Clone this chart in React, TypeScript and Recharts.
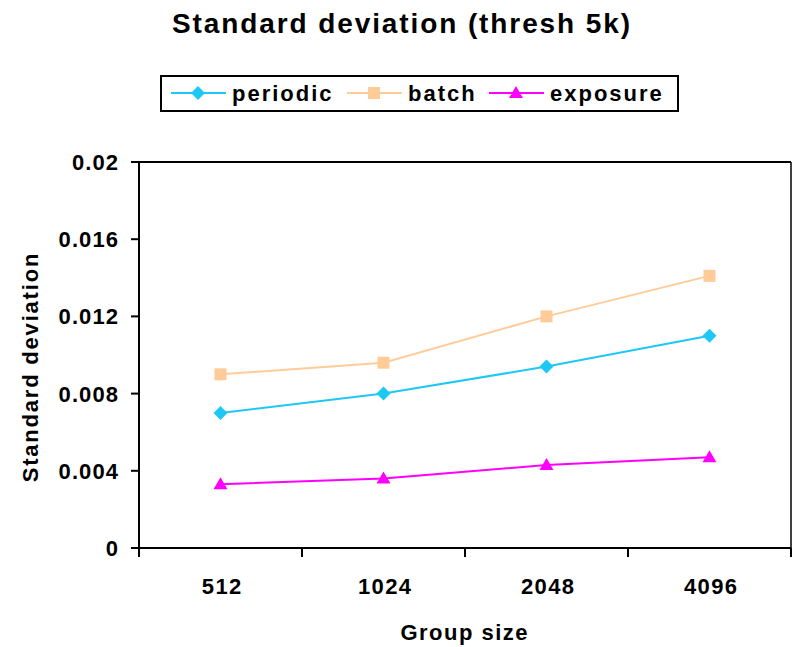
import React from "react";
import { LineChart, Line, XAxis, YAxis, CartesianGrid } from "recharts";

// ─── Data ────────────────────────────────────────────────────────────────────

const groupSizes = ["512", "1024", "2048", "4096"];
const periodic = [0.007, 0.008, 0.0094, 0.011];
const batch = [0.009, 0.0096, 0.012, 0.0141];
const exposure = [0.0033, 0.0036, 0.0043, 0.0047];
const yTicks = [0, 0.004, 0.008, 0.012, 0.016, 0.02];

const data = groupSizes.map((size, i) => ({
  size,
  periodic: periodic[i],
  batch: batch[i],
  exposure: exposure[i],
}));

const FONT = "'Liberation Sans', Arial, sans-serif";

const SERIES = [
  { key: "periodic", color: "#1ec8f5", shape: "diamond", left: 171 },
  { key: "batch", color: "#ffcc99", shape: "square", left: 347 },
  { key: "exposure", color: "#ff00ff", shape: "triangle", left: 489 },
];

// ─── Helpers ─────────────────────────────────────────────────────────────────

// bold text with a little tracking; anchor shift compensates for trailing spacing
function Txt({
  x,
  y,
  size = 22,
  spacing = 1.5,
  anchor = "start",
  rotate = 0,
  children,
}: {
  x: number;
  y: number;
  size?: number;
  spacing?: number;
  anchor?: "start" | "middle" | "end";
  rotate?: number;
  children: React.ReactNode;
}) {
  const shift = anchor === "middle" ? spacing / 2 : anchor === "end" ? spacing : 0;
  return (
    <text
      transform={`translate(${x},${y}) rotate(${rotate})`}
      x={shift}
      textAnchor={anchor}
      fontFamily={FONT}
      fontWeight={700}
      fontSize={size}
      letterSpacing={spacing}
      fill="#000"
    >
      {children}
    </text>
  );
}

function Marker({ cx, cy, shape, color }: { cx: number; cy: number; shape: string; color: string }) {
  if (shape === "diamond") {
    return <polygon points={`${cx},${cy - 7} ${cx + 7},${cy} ${cx},${cy + 7} ${cx - 7},${cy}`} fill={color} />;
  }
  if (shape === "square") {
    return <rect x={cx - 6} y={cy - 6} width={12} height={12} fill={color} />;
  }
  return <polygon points={`${cx},${cy - 7} ${cx + 7},${cy + 5} ${cx - 7},${cy + 5}`} fill={color} />;
}

// x ticks sit on category boundaries, labels at centres
function XTick(props: any) {
  const { x, y, payload, index, visibleTicksCount } = props;
  const half = payload?.offset || 81.5;
  const last = index === (visibleTicksCount ?? groupSizes.length) - 1;
  return (
    <g>
      <line x1={x - half} x2={x - half} y1={y} y2={y + 9} stroke="#000" strokeWidth={2} />
      {last && <line x1={x + half} x2={x + half} y1={y} y2={y + 9} stroke="#000" strokeWidth={2} />}
      <Txt x={x + 1} y={y + 46} anchor="middle" spacing={1.4}>
        {payload.value}
      </Txt>
    </g>
  );
}

function YTick(props: any) {
  const { x, y, payload } = props;
  return (
    <Txt x={x - 11} y={y + 8} anchor="end" spacing={1.1}>
      {String(payload.value)}
    </Txt>
  );
}

function Header() {
  return (
    <svg width={792} height={130} style={{ position: "absolute", left: 0, top: 0 }}>
      <Txt x={401} y={33} size={28} spacing={1.9} anchor="middle">
        Standard deviation (thresh 5k)
      </Txt>
      <rect x={161} y={76} width={517} height={35} fill="none" stroke="#000" strokeWidth={2} />
      {SERIES.map((s) => (
        <g key={s.key}>
          <line x1={s.left} x2={s.left + 55} y1={93} y2={93} stroke={s.color} strokeWidth={2} />
          <Marker cx={s.left + 27} cy={93} shape={s.shape} color={s.color} />
          <Txt x={s.left + 61} y={100.5} spacing={2}>
            {s.key}
          </Txt>
        </g>
      ))}
    </svg>
  );
}

export default function App() {
  return (
    <div style={{ position: "absolute", left: 0, top: 0, width: 792, height: 647, background: "#fff" }}>
      <Header />
      <LineChart width={792} height={647} data={data} margin={{ top: 162, right: 0, bottom: 0, left: 0 }}>
        <CartesianGrid vertical={false} stroke="#000" strokeWidth={2} />
        <XAxis
          dataKey="size"
          scale="band"
          height={99}
          axisLine={{ stroke: "#000", strokeWidth: 2 }}
          tickLine={false}
          tickSize={0}
          tickMargin={0}
          tick={<XTick />}
          interval={0}
          label={{
            value: "Group size",
            content: (p: any) => (
              <Txt x={p.viewBox.x + p.viewBox.width / 2 - 1} y={640} anchor="middle" size={22} spacing={1.5}>
                Group size
              </Txt>
            ),
          }}
        />
        <YAxis
          yAxisId="left"
          width={139}
          domain={[0, 0.02]}
          ticks={yTicks}
          interval={0}
          axisLine={{ stroke: "#000", strokeWidth: 2 }}
          tickLine={{ stroke: "#000", strokeWidth: 2 }}
          tickSize={8}
          tick={<YTick />}
          label={{
            value: "Standard deviation",
            content: () => (
              <Txt x={38} y={368} rotate={-90} anchor="middle" size={22} spacing={1.8}>
                Standard deviation
              </Txt>
            ),
          }}
        />
        <YAxis yAxisId="right" orientation="right" width={1} domain={[0, 0.02]} tick={false} tickLine={false} axisLine={{ stroke: "#000", strokeWidth: 1.5 }} />
        {SERIES.map((s) => (
          <Line
            key={s.key}
            yAxisId="left"
            type="linear"
            dataKey={s.key}
            stroke={s.color}
            strokeWidth={2}
            isAnimationActive={false}
            dot={(p: any) => <Marker key={`${s.key}-${p.index}`} cx={p.cx} cy={p.cy} shape={s.shape} color={s.color} />}
            activeDot={false}
          />
        ))}
      </LineChart>
    </div>
  );
}
